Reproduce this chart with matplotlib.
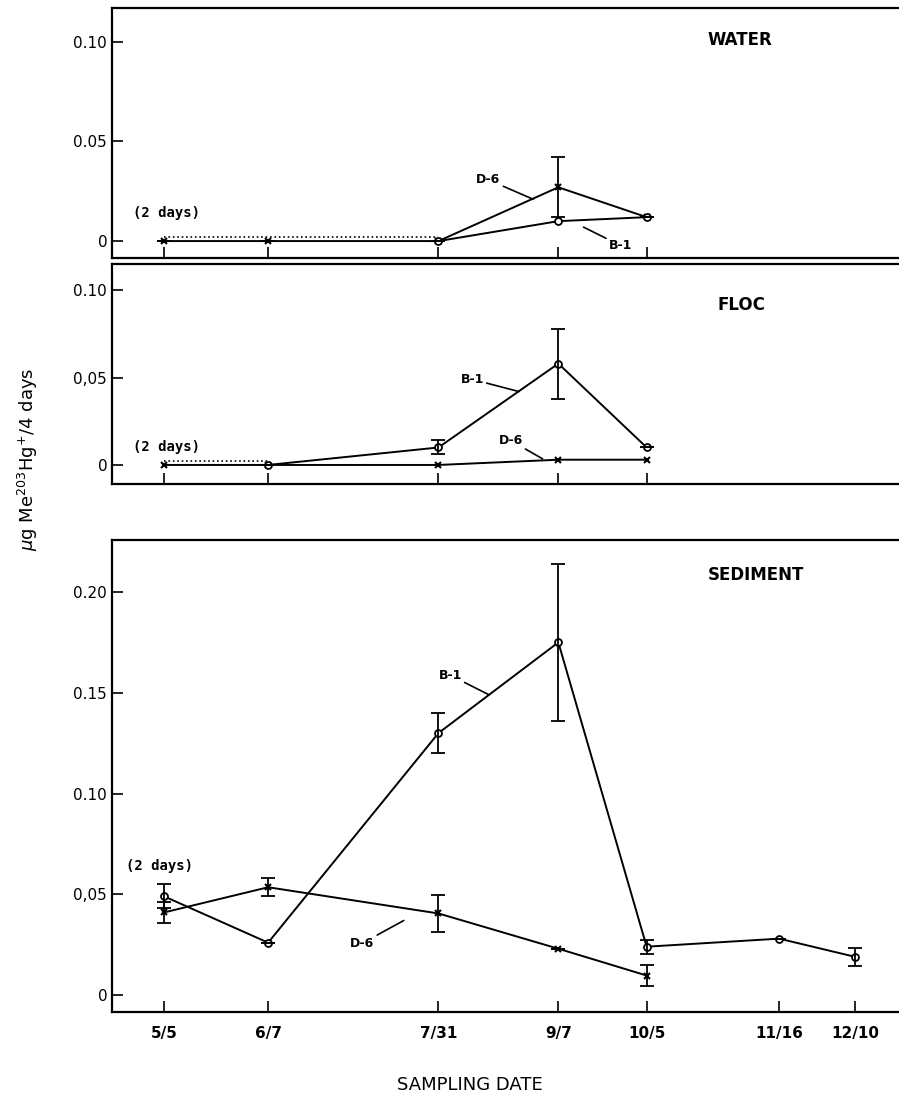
import numpy as np
import matplotlib
matplotlib.use('Agg')
import matplotlib.pyplot as plt

dates = ['5/5', '6/7', '7/31', '9/7', '10/5', '11/16', '12/10']
days = [125, 158, 212, 250, 278, 320, 344]  # day of year, spacing follows the calendar

# WATER
water_d6 = [0.0, 0.0, 0.0, 0.027, 0.012]
water_d6_err = [0, 0, 0, 0.015, 0]
water_b1 = [np.nan, np.nan, 0.0, 0.010, 0.012]
water_b1_2days = [0.002, 0.002, 0.002]

# FLOC
floc_d6 = [0.0, 0.0, 0.0, 0.003, 0.003]
floc_b1 = [np.nan, 0.0, 0.010, 0.058, 0.010]
floc_b1_err = [0, 0, 0.004, 0.020, 0]
floc_b1_2days = [0.002, 0.002]

# SEDIMENT
sed_b1 = [0.049, 0.026, 0.130, 0.175, 0.024, 0.028, 0.019]
sed_b1_err = [0.006, 0, 0.010, 0.039, 0.0035, 0, 0.0045]
sed_d6 = [0.041, 0.0535, 0.0405, 0.023, 0.0097]
sed_d6_err = [0.005, 0.0045, 0.009, 0, 0.005]

fig = plt.figure(figsize=(8.99, 11.02), dpi=100)
left, width = 112 / 899, 1 - 112 / 899
ax1 = fig.add_axes([left, 1 - 258 / 1102, width, 250 / 1102])
ax2 = fig.add_axes([left, 1 - 484 / 1102, width, 220 / 1102])
ax3 = fig.add_axes([left, 1 - 1012 / 1102, width, 472 / 1102])

lw = 1.4
d6_style = dict(color='black', lw=lw, marker='x', ms=5, mew=1.5)
b1_style = dict(color='black', lw=lw, marker='o', ms=5, mew=1.3, mfc='white')
err_style = dict(fmt='none', ecolor='black', elinewidth=1.3, capsize=5, capthick=1.3)


def style_axis(ax, ylim, yticks, yticklabels, nx):
    ax.set_xlim(108.5, 358)
    ax.set_ylim(*ylim)
    ax.set_yticks(yticks)
    ax.set_yticklabels(yticklabels, fontsize=11)
    ax.set_xticks(days[:nx])
    ax.tick_params(direction='in', length=8, width=1.2)
    ax.spines['right'].set_visible(False)
    for s in ['left', 'top', 'bottom']:
        ax.spines[s].set_linewidth(1.6)


# WATER
ax1.plot(days[:3], water_b1_2days, color='black', lw=1.2, ls=':')
ax1.plot(days[:5], water_d6, **d6_style)
ax1.plot(days[:5], water_b1, **b1_style)
ax1.errorbar(days[:5], water_d6, yerr=water_d6_err, **err_style)
style_axis(ax1, (-0.0085, 0.117), [0, 0.05, 0.10], ['0', '0.05', '0.10'], 5)
ax1.set_xticklabels([])
ax1.text(0.757, 0.852, 'WATER', transform=ax1.transAxes, fontsize=12, fontweight='bold')
ax1.text(115, 0.012, '(2 days)', fontsize=10, fontweight='bold', family='monospace')
ax1.annotate('D-6', xy=(242, 0.021), xytext=(224, 0.029), fontsize=9, fontweight='bold',
             arrowprops=dict(arrowstyle='-', lw=1.2, color='black', shrinkA=0, shrinkB=0))
ax1.annotate('B-1', xy=(258, 0.007), xytext=(266, -0.004), fontsize=9, fontweight='bold',
             arrowprops=dict(arrowstyle='-', lw=1.2, color='black', shrinkA=0, shrinkB=0))

# FLOC
ax2.plot(days[:2], floc_b1_2days, color='black', lw=1.2, ls=':')
ax2.plot(days[:5], floc_d6, **d6_style)
ax2.plot(days[:5], floc_b1, **b1_style)
ax2.errorbar(days[:5], floc_b1, yerr=floc_b1_err, **err_style)
style_axis(ax2, (-0.0109, 0.115), [0, 0.05, 0.10], ['0', '0,05', '0.10'], 5)
ax2.set_xticklabels([])
ax2.text(0.77, 0.79, 'FLOC', transform=ax2.transAxes, fontsize=12, fontweight='bold')
ax2.text(115, 0.008, '(2 days)', fontsize=10, fontweight='bold', family='monospace')
ax2.annotate('B-1', xy=(237.5, 0.042), xytext=(219, 0.047), fontsize=9, fontweight='bold',
             arrowprops=dict(arrowstyle='-', lw=1.2, color='black', shrinkA=0, shrinkB=0))
ax2.annotate('D-6', xy=(245, 0.0035), xytext=(231, 0.012), fontsize=9, fontweight='bold',
             arrowprops=dict(arrowstyle='-', lw=1.2, color='black', shrinkA=0, shrinkB=0))

# SEDIMENT
ax3.plot(days[:5], sed_d6, **d6_style)
ax3.plot(days, sed_b1, **b1_style)
ax3.errorbar(days, sed_b1, yerr=sed_b1_err, **err_style)
ax3.errorbar(days[:5], sed_d6, yerr=sed_d6_err, **err_style)
style_axis(ax3, (-0.0084, 0.2258), [0, 0.05, 0.10, 0.15, 0.20],
           ['0', '0,05', '0.10', '0.15', '0.20'], 7)
ax3.set_xticklabels(dates, fontsize=11, fontweight='bold')
ax3.tick_params(axis='x', pad=10)
ax3.text(0.757, 0.915, 'SEDIMENT', transform=ax3.transAxes, fontsize=12, fontweight='bold')
ax3.text(113, 0.062, '(2 days)', fontsize=10, fontweight='bold', family='monospace')
ax3.annotate('B-1', xy=(228, 0.149), xytext=(212, 0.157), fontsize=9, fontweight='bold',
             arrowprops=dict(arrowstyle='-', lw=1.2, color='black', shrinkA=0, shrinkB=0))
ax3.annotate('D-6', xy=(201, 0.037), xytext=(184, 0.024), fontsize=9, fontweight='bold',
             arrowprops=dict(arrowstyle='-', lw=1.2, color='black', shrinkA=0, shrinkB=0))

fig.text(0.031, 0.583, r'$\mu$g Me$^{203}$Hg$^{+}$/4 days', rotation=90,
         ha='center', va='center', fontsize=13)
fig.text(0.523, 0.015, 'SAMPLING DATE', ha='center', va='center', fontsize=13)

fig.savefig('out.png', dpi=100)
